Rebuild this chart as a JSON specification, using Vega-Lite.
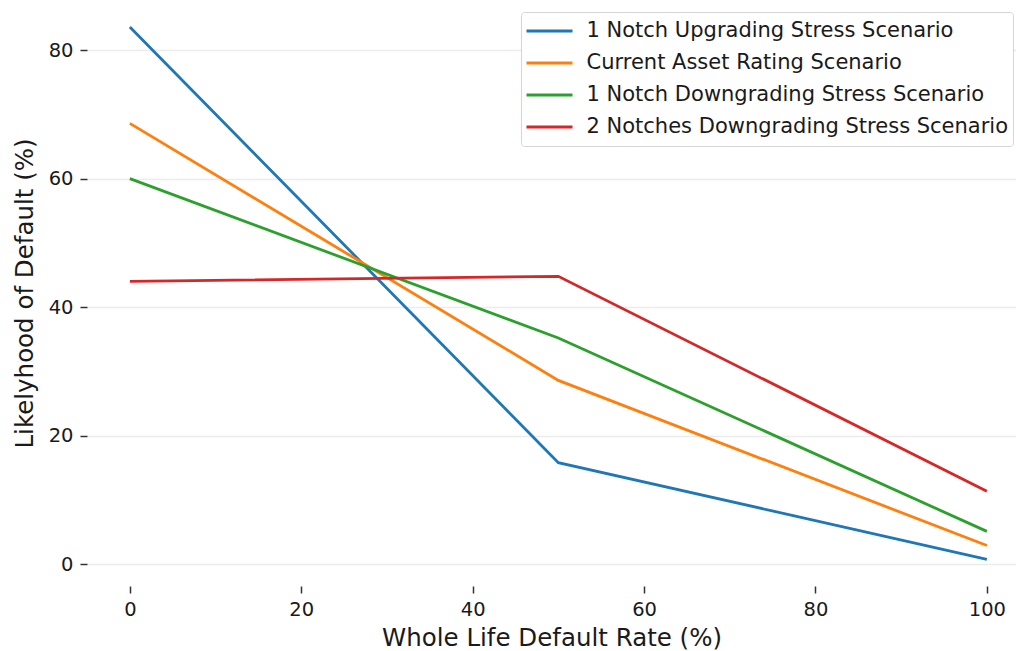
{
  "$schema": "https://vega.github.io/schema/vega-lite/v6.json",
  "autosize": {"type": "none"},
  "width": 929,
  "height": 586,
  "padding": {"left": 87, "top": 0, "right": 0, "bottom": 65},
  "background": "white",
  "config": {
    "font": "DejaVu Sans",
    "view": {"stroke": null}
  },
  "data": {
    "values": [
      {"scenario": "1 Notch Upgrading Stress Scenario", "wldr": 0, "lod": 83.6},
      {"scenario": "1 Notch Upgrading Stress Scenario", "wldr": 50, "lod": 15.8},
      {"scenario": "1 Notch Upgrading Stress Scenario", "wldr": 100, "lod": 0.75},
      {"scenario": "Current Asset Rating Scenario", "wldr": 0, "lod": 68.6},
      {"scenario": "Current Asset Rating Scenario", "wldr": 50, "lod": 28.6},
      {"scenario": "Current Asset Rating Scenario", "wldr": 100, "lod": 2.9},
      {"scenario": "1 Notch Downgrading Stress Scenario", "wldr": 0, "lod": 60.0},
      {"scenario": "1 Notch Downgrading Stress Scenario", "wldr": 50, "lod": 35.2},
      {"scenario": "1 Notch Downgrading Stress Scenario", "wldr": 100, "lod": 5.1},
      {"scenario": "2 Notches Downgrading Stress Scenario", "wldr": 0, "lod": 44.0},
      {"scenario": "2 Notches Downgrading Stress Scenario", "wldr": 50, "lod": 44.8},
      {"scenario": "2 Notches Downgrading Stress Scenario", "wldr": 100, "lod": 11.35}
    ]
  },
  "mark": {"type": "line", "strokeWidth": 2.8, "clip": true},
  "encoding": {
    "x": {
      "field": "wldr", "type": "quantitative",
      "scale": {"domain": [-5, 103.4], "nice": false, "zero": false},
      "axis": {
        "title": "Whole Life Default Rate (%)",
        "titleFontSize": 24.5, "titleFontWeight": "normal", "titleColor": "#1a1a1a",
        "titlePadding": 8,
        "values": [0, 20, 40, 60, 80, 100],
        "labelFontSize": 19.5, "labelColor": "#1a1a1a", "labelPadding": 7,
        "domain": false, "grid": false,
        "tickColor": "#333", "tickSize": 7, "tickWidth": 1.5
      }
    },
    "y": {
      "field": "lod", "type": "quantitative",
      "scale": {"domain": [-3.4, 87.8], "nice": false, "zero": false},
      "axis": {
        "title": "Likelyhood of Default (%)",
        "titleFontSize": 24.5, "titleFontWeight": "normal", "titleColor": "#1a1a1a",
        "titlePadding": 11,
        "values": [0, 20, 40, 60, 80],
        "labelFontSize": 19.5, "labelColor": "#1a1a1a", "labelPadding": 7,
        "domain": false, "grid": true, "gridColor": "#ececec", "gridWidth": 1.6,
        "tickColor": "#333", "tickSize": 7, "tickWidth": 1.5
      }
    },
    "color": {
      "field": "scenario", "type": "nominal",
      "scale": {
        "domain": ["1 Notch Upgrading Stress Scenario", "Current Asset Rating Scenario", "1 Notch Downgrading Stress Scenario", "2 Notches Downgrading Stress Scenario"],
        "range": ["#1f77b4", "#ff7f0e", "#2ca02c", "#d62728"]
      },
      "legend": {
        "title": null,
        "orient": "none",
        "legendX": 434,
        "legendY": 12,
        "symbolType": "stroke",
        "symbolSize": 2116,
        "symbolStrokeWidth": 2.8,
        "labelFontSize": 21,
        "labelColor": "#1a1a1a",
        "labelOffset": 12.5,
        "labelLimit": 800,
        "clipHeight": 30,
        "rowPadding": 2,
        "padding": 4,
        "strokeColor": "#d5d5d5",
        "fillColor": "white",
        "cornerRadius": 3
      }
    }
  }
}
